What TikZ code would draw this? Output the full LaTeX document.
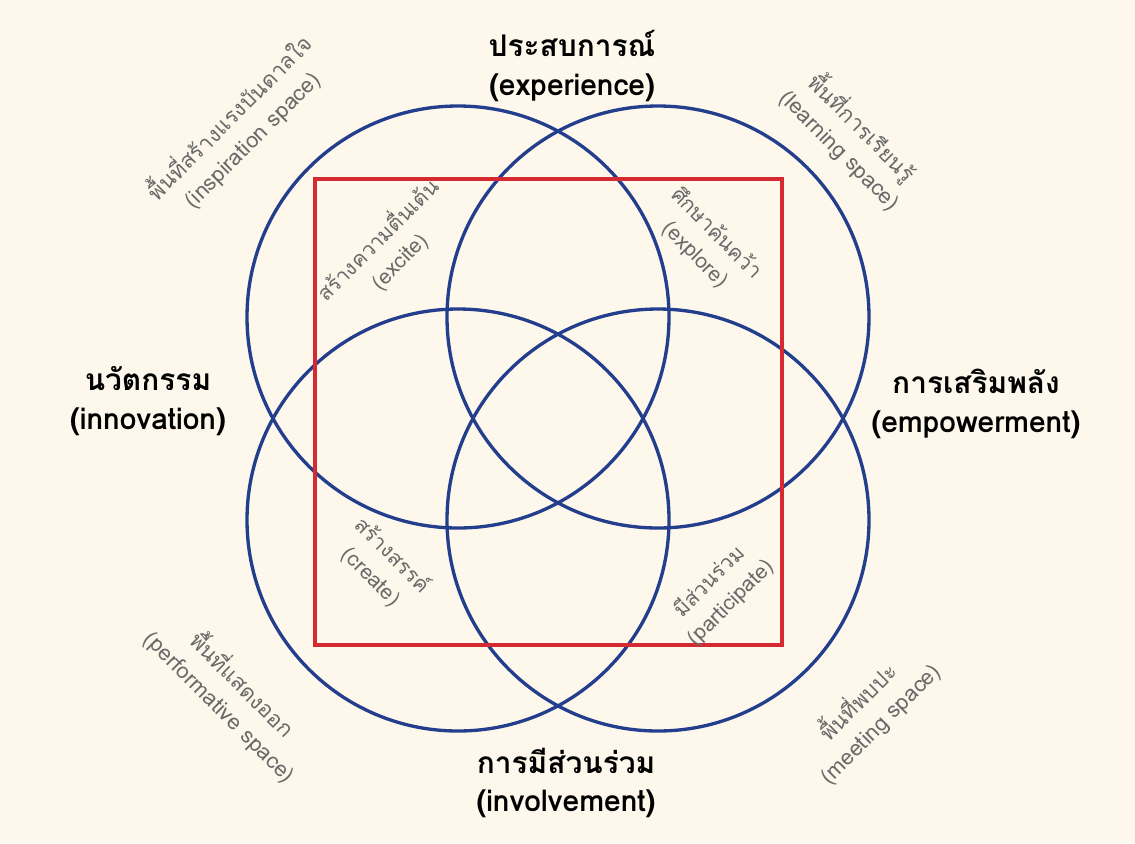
\documentclass[tikz,border=0pt]{standalone}
\usepackage{fontspec}
\newfontfamily\thaifont[Script=Thai]{Loma}
\usepackage{tikz}
\definecolor{cream}{HTML}{FDF8EB}
\definecolor{ringblue}{HTML}{243E8E}
\definecolor{boxred}{HTML}{D62A33}
\definecolor{softgray}{HTML}{6A6A6A}

\begin{document}
\begin{tikzpicture}[
    x=0.02cm, y=-0.02cm,
    ring/.style={draw=ringblue, line width=1.9pt},
    title/.style={font=\thaifont\bfseries\fontsize{17}{22}\selectfont,
                  align=center, text=black},
    space/.style={font=\thaifont\fontsize{12.5}{17.5}\selectfont,
                  align=center, text=softgray},
    act/.style={font=\thaifont\fontsize{12}{17}\selectfont,
                align=center, text=softgray}
  ]
    % Background
    \fill[cream] (0,0) rectangle (1135,843);
    \useasboundingbox (0,0) rectangle (1135,843);
    % Four circles
    \coordinate (ctl) at (458,317);
    \coordinate (ctr) at (658,317);
    \coordinate (cbl) at (458,520);
    \coordinate (cbr) at (658,520);
    \draw[ring] (ctl) circle[radius=211];
    \draw[ring] (ctr) circle[radius=211];
    \draw[ring] (cbl) circle[radius=211];
    \draw[ring] (cbr) circle[radius=211];
    % Red frame
    \draw[draw=boxred, line width=1.9pt] (315,179) rectangle (782,645);
    % Main themes
    \node[title] (exp) at (572,66) {ประสบการณ์\\(experience)};
    \node[title] (inn) at (148,401) {นวัตกรรม\\(innovation)};
    \node[title] (emp) at (976,404) {การเสริมพลัง\\(empowerment)};
    \node[title] (inv) at (566,783) {การมีส่วนร่วม\\(involvement)};
    % Spaces
    \node[space, rotate=45] (insp) at (240,128) {พื้นที่สร้างแรงบันดาลใจ\\(inspiration space)};
    \node[space, rotate=-45] (learn) at (852,138) {พื้นที่การเรียนรู้\\(learning space)};
    \node[space, rotate=-45] (perf) at (232,695) {พื้นที่แสดงออก\\(performative space)};
    \node[space, rotate=45] (meet) at (868,712) {พื้นที่พบปะ\\(meeting space)};
    % Activities
    \node[act, rotate=45] (excite) at (388,250) {สร้างความตื่นเต้น\\(excite)};
    \node[act, rotate=-45] (explore) at (706,244) {ศึกษาค้นคว้า\\(explore)};
    \node[act, rotate=-45] (create) at (382,566) {สร้างสรรค์\\(create)};
    \node[act, rotate=45] (part) at (720,592) {มีส่วนร่วม\\(participate)};
  \end{tikzpicture}
\end{document}
